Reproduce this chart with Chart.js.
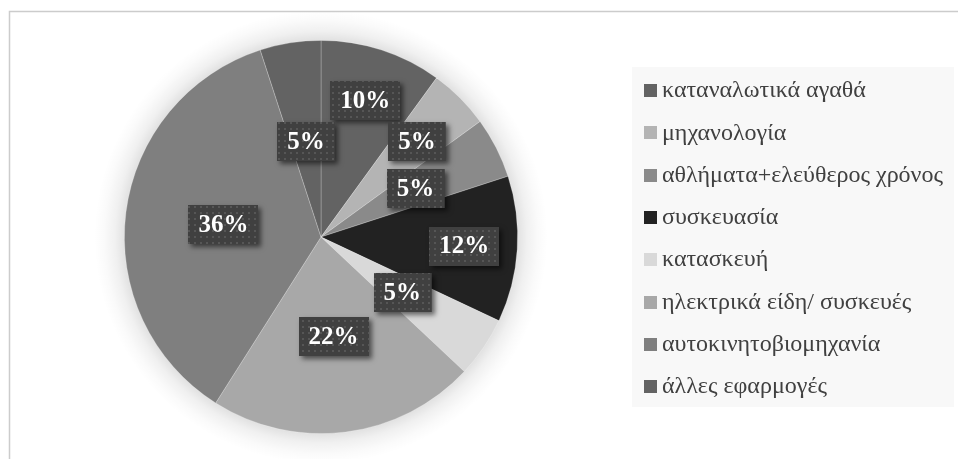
<!DOCTYPE html>
<html>
<head>
<meta charset="utf-8">
<title>Τομείς εφαρμογών</title>
<script src="https://cdn.jsdelivr.net/npm/chart.js@4.4.0/dist/chart.umd.min.js"></script>
<style>
	html, body { margin: 0; padding: 0; background: #ffffff; }
	#wrap { width: 958px; height: 459px; position: relative; }
</style>
</head>
<body>
<div id="wrap"><canvas id="pie" width="958" height="459"></canvas></div>
<script>
	const sectors = [
		"καταναλωτικά αγαθά",
		"μηχανολογία",
		"αθλήματα+ελεύθερος χρόνος",
		"συσκευασία",
		"κατασκευή",
		"ηλεκτρικά είδη/ συσκευές",
		"αυτοκινητοβιομηχανία",
		"άλλες εφαρμογές"
	];
	const shares = [10, 5, 5, 12, 5, 22, 36, 5];
	const shades = ["#636363", "#b4b4b4", "#8a8a8a", "#222222", "#d9d9d9", "#a8a8a8", "#7f7f7f", "#636363"];

	// how far out (fraction of radius) each percentage box sits
	const boxRadius = [0.73, 0.69, 0.54, 0.73, 0.50, 0.51, 0.50, 0.49];

	const pie = document.getElementById('pie');

	// small dotted texture for the value boxes
	const dotTile = document.createElement('canvas');
	dotTile.width = 6;
	dotTile.height = 6;
	(function () {
		const t = dotTile.getContext('2d');
		t.fillStyle = '#404040';
		t.fillRect(0, 0, 6, 6);
		t.fillStyle = '#565656';
		t.fillRect(2, 2, 2, 2);
	})();

	const framePlugin = {
		id: 'frame',
		beforeDraw(chart) {
			const c = chart.ctx;
			c.save();
			c.fillStyle = '#ffffff';
			c.fillRect(0, 0, chart.width, chart.height);
			c.strokeStyle = '#cccccc';
			c.lineWidth = 1.5;
			c.strokeRect(9.5, 11.5, chart.width + 50, chart.height + 50);
			c.restore();
		}
	};

	// soft halo around the pie
	const glowPlugin = {
		id: 'glow',
		beforeDatasetsDraw(chart) {
			const arc = chart.getDatasetMeta(0).data[0];
			if (!arc) return;
			const c = chart.ctx;
			const R = arc.outerRadius;
			const g = c.createRadialGradient(arc.x, arc.y, R - 2, arc.x, arc.y, R + 30);
			g.addColorStop(0, 'rgba(0,0,0,0.13)');
			g.addColorStop(0.35, 'rgba(0,0,0,0.06)');
			g.addColorStop(0.7, 'rgba(0,0,0,0.02)');
			g.addColorStop(1, 'rgba(0,0,0,0)');
			c.save();
			c.fillStyle = g;
			c.beginPath();
			c.arc(arc.x, arc.y, R + 30, 0, Math.PI * 2);
			c.fill();
			c.restore();
		}
	};

	const valueBoxes = {
		id: 'valueBoxes',
		afterDatasetsDraw(chart) {
			const c = chart.ctx;
			const pattern = c.createPattern(dotTile, 'repeat');
			const values = chart.data.datasets[0].data;
			const total = values.reduce((a, b) => a + b, 0);
			c.save();
			c.font = 'bold 25px "Liberation Serif", serif';
			c.textAlign = 'center';
			c.textBaseline = 'middle';
			chart.getDatasetMeta(0).data.forEach((arc, i) => {
				const p = arc.getProps(['x', 'y', 'startAngle', 'endAngle', 'outerRadius'], true);
				const mid = (p.startAngle + p.endAngle) / 2;
				const r = p.outerRadius * boxRadius[i];
				const cx = p.x + Math.cos(mid) * r;
				const cy = p.y + Math.sin(mid) * r;
				const text = Math.round(values[i] / total * 100) + '%';
				const w = c.measureText(text).width + 20;
				const h = 39;
				const bx = Math.round(cx - w / 2), by = Math.round(cy - h / 2);

				c.save();
				c.shadowColor = 'rgba(0,0,0,0.55)';
				c.shadowBlur = 5;
				c.shadowOffsetX = 3;
				c.shadowOffsetY = 3;
				c.fillStyle = '#404040';
				c.fillRect(bx, by, w, h);
				c.restore();
				c.fillStyle = pattern;
				c.fillRect(bx, by, w, h);

				c.fillStyle = '#ffffff';
				c.fillText(text, cx, cy + 1);
			});
			c.restore();
		}
	};

	const sideLegend = {
		id: 'sideLegend',
		afterDraw(chart) {
			const c = chart.ctx;
			const ds = chart.data.datasets[0];
			c.save();
			c.fillStyle = '#f8f8f8';
			c.fillRect(632, 67, 322, 340);
			c.font = '24px "Liberation Serif", serif';
			c.textBaseline = 'middle';
			c.textAlign = 'left';
			chart.data.labels.forEach((lab, i) => {
				const y = 90 + i * 42.3;
				c.fillStyle = ds.backgroundColor[i];
				c.fillRect(644, Math.round(y - 6), 13, 13);
				c.fillStyle = '#404040';
				c.fillText(lab, 662, y + 1);
			});
			c.restore();
		}
	};

	new Chart(pie, {
		type: 'pie',
		data: {
			labels: sectors,
			datasets: [{
				data: shares,
				backgroundColor: shades,
				borderColor: 'rgba(255,255,255,0.3)',
				borderWidth: 0.8
			}]
		},
		options: {
			responsive: false,
			devicePixelRatio: 1,
			animation: false,
			layout: {
				padding: { left: 10, right: 326, top: 40, bottom: 25 }
			},
			plugins: {
				legend: { display: false },
				tooltip: { enabled: false }
			}
		},
		plugins: [framePlugin, glowPlugin, valueBoxes, sideLegend]
	});
</script>
</body>
</html>
